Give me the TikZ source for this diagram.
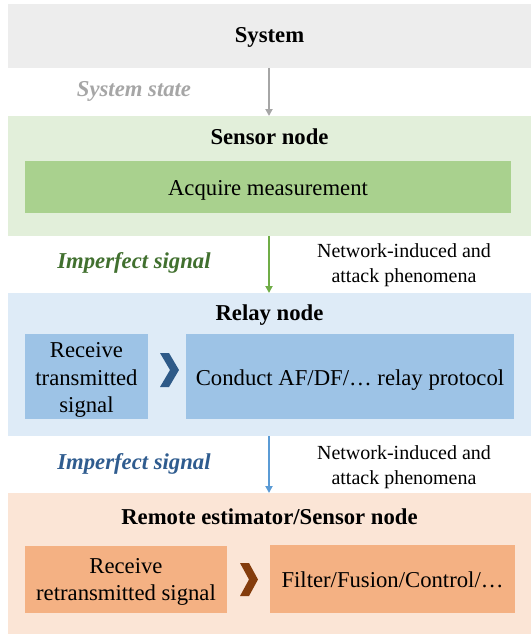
\documentclass[tikz,border=0pt]{standalone}
\usepackage{fontspec}
\setmainfont{Liberation Serif}
\usetikzlibrary{arrows.meta}
\definecolor{sysbg}{HTML}{EDEDED}
\definecolor{senbg}{HTML}{E2EFDA}
\definecolor{senin}{HTML}{A9D18E}
\definecolor{relbg}{HTML}{DEEBF7}
\definecolor{relin}{HTML}{9DC3E6}
\definecolor{rembg}{HTML}{FBE5D6}
\definecolor{remin}{HTML}{F4B183}
\definecolor{chevblue}{HTML}{2E5A88}
\definecolor{chevbrown}{HTML}{843C0C}
\definecolor{txtgray}{HTML}{A6A6A6}
\definecolor{txtgreen}{HTML}{41702F}
\definecolor{txtblue}{HTML}{2F5C8F}
\definecolor{arrgray}{HTML}{A6A6A6}
\definecolor{arrgreen}{HTML}{70AD47}
\definecolor{arrblue}{HTML}{5B9BD5}
\tikzset{
  panel/.style={rectangle, inner sep=0pt, outer sep=0pt, draw=none},
  big/.style={font=\fontsize{22.7}{27.5}\selectfont, inner sep=0pt, anchor=base},
  bigml/.style={font=\fontsize{22.7}{27.5}\selectfont, inner sep=0pt, align=center},
  title/.style={font=\fontsize{22.7}{27.5}\selectfont\bfseries, inner sep=0pt, anchor=base},
  label/.style={font=\fontsize{22.7}{27.5}\selectfont\bfseries\itshape, inner sep=0pt, anchor=base},
  note/.style={font=\fontsize{20}{25}\selectfont, align=center, inner sep=0pt},
  flow/.style={line width=1.8pt, -{Triangle[length=7pt,width=7pt]}},
}
\begin{document}
\begin{tikzpicture}[x=1pt,y=-1pt]
\useasboundingbox (0,0) rectangle (531,635);
\fill[white] (0,0) rectangle (531,635);
% panels
\node[panel, fill=sysbg, minimum width=523pt, minimum height=64pt] (sys) at (269.5,36) {};
\node[panel, fill=senbg, minimum width=523pt, minimum height=120pt] (sen) at (269.5,176) {};
\node[panel, fill=relbg, minimum width=523pt, minimum height=143pt] (rel) at (269.5,364.5) {};
\node[panel, fill=rembg, minimum width=523pt, minimum height=141pt] (rem) at (269.5,563.5) {};
% inner boxes
\node[panel, fill=senin, minimum width=486pt, minimum height=52pt] (acq) at (268,187) {};
\node[panel, fill=relin, minimum width=123pt, minimum height=85pt] (rx1) at (86.5,376.5) {};
\node[panel, fill=relin, minimum width=328pt, minimum height=85pt] (relay) at (350,376.5) {};
\node[panel, fill=remin, minimum width=202pt, minimum height=67pt] (rx2) at (126,579.5) {};
\node[panel, fill=remin, minimum width=245pt, minimum height=68pt] (filt) at (392.5,579) {};
% titles
\node[title] (systitle) at (269.5,42.3) {System};
\node[title] (sentitle) at (269.5,144) {Sensor node};
\node[title] (reltitle) at (269.5,320.7) {Relay node};
\node[title] (remtitle) at (269.5,524) {Remote estimator/Sensor node};
% box texts
\node[big] (acqtext) at (268,195.7) {Acquire measurement};
\node[bigml] (rx1text) at (86.5,379.8) {\strut Receive\\\strut transmitted\\\strut signal};
\node[big] (relaytext) at (350,385.7) {Conduct AF/DF/\ldots\ relay protocol};
\node[bigml] (rx2text) at (126,581.5) {\strut Receive\\\strut retransmitted signal};
\node[big] (filttext) at (392.5,587.7) {Filter/Fusion/Control/\ldots};
% chevrons
\fill[chevblue] (160,353) -- (169,353) -- (179,370) -- (169,387) -- (160,387) -- (170,370) -- cycle;
\fill[chevbrown] (240,563) -- (249,563) -- (258,579.5) -- (249,596) -- (240,596) -- (249,579.5) -- cycle;
% connectors
\draw[flow, arrgray] (sys.south -| 269,0) -- (sen.north -| 269,0);
\draw[flow, arrgreen] (sen.south -| 269,0) -- (rel.north -| 269,0);
\draw[flow, arrblue] (rel.south -| 269,0) -- (rem.north -| 269,0);
% labels
\node[label, txtgray] (lstate) at (134,96.7) {System state};
\node[label, txtgreen] (lsig1) at (134,268.3) {Imperfect signal};
\node[label, txtblue] (lsig2) at (134,469.3) {Imperfect signal};
\node[note] (net1) at (404,265.2) {\strut Network-induced and\\\strut attack phenomena};
\node[note] (net2) at (404,466.8) {\strut Network-induced and\\\strut attack phenomena};
\end{tikzpicture}
\end{document}
